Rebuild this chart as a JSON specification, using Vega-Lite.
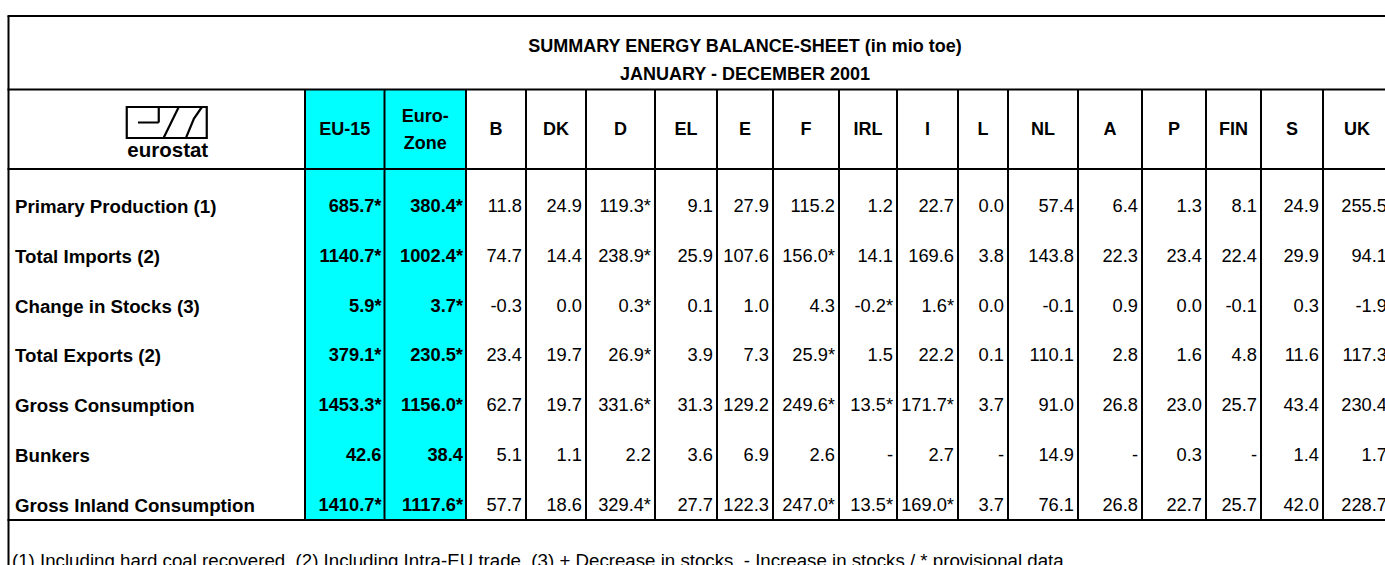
{
  "$schema": "https://vega.github.io/schema/vega-lite/v6.json",
  "width": 1385,
  "height": 565,
  "padding": 0,
  "autosize": {"type": "none"},
  "background": "white",
  "config": {
    "view": {"stroke": null},
    "text": {"font": "Liberation Sans, Arial, sans-serif", "fontSize": 18.3, "color": "black"}
  },
  "datasets": {
    "columns": [
      {"col": "label", "k": 0, "head": ""},
      {"col": "EU-15", "k": 1, "head": "EU-15"},
      {"col": "Euro-Zone", "k": 2, "head": "Euro-\nZone"},
      {"col": "B", "k": 3, "head": "B"},
      {"col": "DK", "k": 4, "head": "DK"},
      {"col": "D", "k": 5, "head": "D"},
      {"col": "EL", "k": 6, "head": "EL"},
      {"col": "E", "k": 7, "head": "E"},
      {"col": "F", "k": 8, "head": "F"},
      {"col": "IRL", "k": 9, "head": "IRL"},
      {"col": "I", "k": 10, "head": "I"},
      {"col": "L", "k": 11, "head": "L"},
      {"col": "NL", "k": 12, "head": "NL"},
      {"col": "A", "k": 13, "head": "A"},
      {"col": "P", "k": 14, "head": "P"},
      {"col": "FIN", "k": 15, "head": "FIN"},
      {"col": "S", "k": 16, "head": "S"},
      {"col": "UK", "k": 17, "head": "UK"}
    ],
    "rows": [
      {"item": "Primary Production (1)", "line": 6},
      {"item": "Total Imports (2)", "line": 7},
      {"item": "Change in Stocks (3)", "line": 8},
      {"item": "Total Exports (2)", "line": 9},
      {"item": "Gross Consumption", "line": 10},
      {"item": "Bunkers", "line": 11},
      {"item": "Gross Inland Consumption", "line": 12}
    ],
    "cells": [
      {"item": "Primary Production (1)", "col": "EU-15", "value": "685.7*"},
      {"item": "Primary Production (1)", "col": "Euro-Zone", "value": "380.4*"},
      {"item": "Primary Production (1)", "col": "B", "value": "11.8"},
      {"item": "Primary Production (1)", "col": "DK", "value": "24.9"},
      {"item": "Primary Production (1)", "col": "D", "value": "119.3*"},
      {"item": "Primary Production (1)", "col": "EL", "value": "9.1"},
      {"item": "Primary Production (1)", "col": "E", "value": "27.9"},
      {"item": "Primary Production (1)", "col": "F", "value": "115.2"},
      {"item": "Primary Production (1)", "col": "IRL", "value": "1.2"},
      {"item": "Primary Production (1)", "col": "I", "value": "22.7"},
      {"item": "Primary Production (1)", "col": "L", "value": "0.0"},
      {"item": "Primary Production (1)", "col": "NL", "value": "57.4"},
      {"item": "Primary Production (1)", "col": "A", "value": "6.4"},
      {"item": "Primary Production (1)", "col": "P", "value": "1.3"},
      {"item": "Primary Production (1)", "col": "FIN", "value": "8.1"},
      {"item": "Primary Production (1)", "col": "S", "value": "24.9"},
      {"item": "Primary Production (1)", "col": "UK", "value": "255.5"},
      {"item": "Total Imports (2)", "col": "EU-15", "value": "1140.7*"},
      {"item": "Total Imports (2)", "col": "Euro-Zone", "value": "1002.4*"},
      {"item": "Total Imports (2)", "col": "B", "value": "74.7"},
      {"item": "Total Imports (2)", "col": "DK", "value": "14.4"},
      {"item": "Total Imports (2)", "col": "D", "value": "238.9*"},
      {"item": "Total Imports (2)", "col": "EL", "value": "25.9"},
      {"item": "Total Imports (2)", "col": "E", "value": "107.6"},
      {"item": "Total Imports (2)", "col": "F", "value": "156.0*"},
      {"item": "Total Imports (2)", "col": "IRL", "value": "14.1"},
      {"item": "Total Imports (2)", "col": "I", "value": "169.6"},
      {"item": "Total Imports (2)", "col": "L", "value": "3.8"},
      {"item": "Total Imports (2)", "col": "NL", "value": "143.8"},
      {"item": "Total Imports (2)", "col": "A", "value": "22.3"},
      {"item": "Total Imports (2)", "col": "P", "value": "23.4"},
      {"item": "Total Imports (2)", "col": "FIN", "value": "22.4"},
      {"item": "Total Imports (2)", "col": "S", "value": "29.9"},
      {"item": "Total Imports (2)", "col": "UK", "value": "94.1"},
      {"item": "Change in Stocks (3)", "col": "EU-15", "value": "5.9*"},
      {"item": "Change in Stocks (3)", "col": "Euro-Zone", "value": "3.7*"},
      {"item": "Change in Stocks (3)", "col": "B", "value": "-0.3"},
      {"item": "Change in Stocks (3)", "col": "DK", "value": "0.0"},
      {"item": "Change in Stocks (3)", "col": "D", "value": "0.3*"},
      {"item": "Change in Stocks (3)", "col": "EL", "value": "0.1"},
      {"item": "Change in Stocks (3)", "col": "E", "value": "1.0"},
      {"item": "Change in Stocks (3)", "col": "F", "value": "4.3"},
      {"item": "Change in Stocks (3)", "col": "IRL", "value": "-0.2*"},
      {"item": "Change in Stocks (3)", "col": "I", "value": "1.6*"},
      {"item": "Change in Stocks (3)", "col": "L", "value": "0.0"},
      {"item": "Change in Stocks (3)", "col": "NL", "value": "-0.1"},
      {"item": "Change in Stocks (3)", "col": "A", "value": "0.9"},
      {"item": "Change in Stocks (3)", "col": "P", "value": "0.0"},
      {"item": "Change in Stocks (3)", "col": "FIN", "value": "-0.1"},
      {"item": "Change in Stocks (3)", "col": "S", "value": "0.3"},
      {"item": "Change in Stocks (3)", "col": "UK", "value": "-1.9"},
      {"item": "Total Exports (2)", "col": "EU-15", "value": "379.1*"},
      {"item": "Total Exports (2)", "col": "Euro-Zone", "value": "230.5*"},
      {"item": "Total Exports (2)", "col": "B", "value": "23.4"},
      {"item": "Total Exports (2)", "col": "DK", "value": "19.7"},
      {"item": "Total Exports (2)", "col": "D", "value": "26.9*"},
      {"item": "Total Exports (2)", "col": "EL", "value": "3.9"},
      {"item": "Total Exports (2)", "col": "E", "value": "7.3"},
      {"item": "Total Exports (2)", "col": "F", "value": "25.9*"},
      {"item": "Total Exports (2)", "col": "IRL", "value": "1.5"},
      {"item": "Total Exports (2)", "col": "I", "value": "22.2"},
      {"item": "Total Exports (2)", "col": "L", "value": "0.1"},
      {"item": "Total Exports (2)", "col": "NL", "value": "110.1"},
      {"item": "Total Exports (2)", "col": "A", "value": "2.8"},
      {"item": "Total Exports (2)", "col": "P", "value": "1.6"},
      {"item": "Total Exports (2)", "col": "FIN", "value": "4.8"},
      {"item": "Total Exports (2)", "col": "S", "value": "11.6"},
      {"item": "Total Exports (2)", "col": "UK", "value": "117.3"},
      {"item": "Gross Consumption", "col": "EU-15", "value": "1453.3*"},
      {"item": "Gross Consumption", "col": "Euro-Zone", "value": "1156.0*"},
      {"item": "Gross Consumption", "col": "B", "value": "62.7"},
      {"item": "Gross Consumption", "col": "DK", "value": "19.7"},
      {"item": "Gross Consumption", "col": "D", "value": "331.6*"},
      {"item": "Gross Consumption", "col": "EL", "value": "31.3"},
      {"item": "Gross Consumption", "col": "E", "value": "129.2"},
      {"item": "Gross Consumption", "col": "F", "value": "249.6*"},
      {"item": "Gross Consumption", "col": "IRL", "value": "13.5*"},
      {"item": "Gross Consumption", "col": "I", "value": "171.7*"},
      {"item": "Gross Consumption", "col": "L", "value": "3.7"},
      {"item": "Gross Consumption", "col": "NL", "value": "91.0"},
      {"item": "Gross Consumption", "col": "A", "value": "26.8"},
      {"item": "Gross Consumption", "col": "P", "value": "23.0"},
      {"item": "Gross Consumption", "col": "FIN", "value": "25.7"},
      {"item": "Gross Consumption", "col": "S", "value": "43.4"},
      {"item": "Gross Consumption", "col": "UK", "value": "230.4"},
      {"item": "Bunkers", "col": "EU-15", "value": "42.6"},
      {"item": "Bunkers", "col": "Euro-Zone", "value": "38.4"},
      {"item": "Bunkers", "col": "B", "value": "5.1"},
      {"item": "Bunkers", "col": "DK", "value": "1.1"},
      {"item": "Bunkers", "col": "D", "value": "2.2"},
      {"item": "Bunkers", "col": "EL", "value": "3.6"},
      {"item": "Bunkers", "col": "E", "value": "6.9"},
      {"item": "Bunkers", "col": "F", "value": "2.6"},
      {"item": "Bunkers", "col": "IRL", "value": "-"},
      {"item": "Bunkers", "col": "I", "value": "2.7"},
      {"item": "Bunkers", "col": "L", "value": "-"},
      {"item": "Bunkers", "col": "NL", "value": "14.9"},
      {"item": "Bunkers", "col": "A", "value": "-"},
      {"item": "Bunkers", "col": "P", "value": "0.3"},
      {"item": "Bunkers", "col": "FIN", "value": "-"},
      {"item": "Bunkers", "col": "S", "value": "1.4"},
      {"item": "Bunkers", "col": "UK", "value": "1.7"},
      {"item": "Gross Inland Consumption", "col": "EU-15", "value": "1410.7*"},
      {"item": "Gross Inland Consumption", "col": "Euro-Zone", "value": "1117.6*"},
      {"item": "Gross Inland Consumption", "col": "B", "value": "57.7"},
      {"item": "Gross Inland Consumption", "col": "DK", "value": "18.6"},
      {"item": "Gross Inland Consumption", "col": "D", "value": "329.4*"},
      {"item": "Gross Inland Consumption", "col": "EL", "value": "27.7"},
      {"item": "Gross Inland Consumption", "col": "E", "value": "122.3"},
      {"item": "Gross Inland Consumption", "col": "F", "value": "247.0*"},
      {"item": "Gross Inland Consumption", "col": "IRL", "value": "13.5*"},
      {"item": "Gross Inland Consumption", "col": "I", "value": "169.0*"},
      {"item": "Gross Inland Consumption", "col": "L", "value": "3.7"},
      {"item": "Gross Inland Consumption", "col": "NL", "value": "76.1"},
      {"item": "Gross Inland Consumption", "col": "A", "value": "26.8"},
      {"item": "Gross Inland Consumption", "col": "P", "value": "22.7"},
      {"item": "Gross Inland Consumption", "col": "FIN", "value": "25.7"},
      {"item": "Gross Inland Consumption", "col": "S", "value": "42.0"},
      {"item": "Gross Inland Consumption", "col": "UK", "value": "228.7"}
    ],
    "titles": [
      {"line": 1, "text": "SUMMARY ENERGY BALANCE-SHEET (in mio toe)"},
      {"line": 2, "text": "JANUARY - DECEMBER 2001"}
    ],
    "hlines": [{"line": 0}, {"line": 3}, {"line": 5}, {"line": 13}],
    "notes": [{"text": "(1) Including hard coal recovered \u00a0(2) Including Intra-EU trade \u00a0(3) + Decrease in stocks \u00a0- Increase in stocks / * provisional data"}],
    "logo": [{"name": "eurostat"}]
  },
  "resolve": {"scale": {"x": "independent", "y": "independent"}},
  "layer": [
    {
      "data": {"name": "logo"},
      "mark": {"type": "rect", "color": "#00FFFF"},
      "encoding": {
        "x": {"datum": 0, "type": "quantitative", "axis": null, "scale": {"type": "linear", "zero": false, "nice": false, "domain": [-1,0,1,2,3,4,5,6,7,8,9,10,11,12,13,14,15,16,17], "range": [8.5,305,384.5,466,526,586,655,717,773,839,897,958,1008,1078,1142,1206,1261,1323,1391]}},
        "x2": {"datum": 2},
        "y": {"datum": 3, "type": "quantitative", "axis": null, "scale": {"type": "linear", "zero": false, "nice": false, "domain": [0,1,2,3,4,5,6,7,8,9,10,11,12,13,14,15], "range": [16,47,75,89.5,130,169,206.7,256.6,306.5,356.4,406.3,456.2,506.1,520,567,600]}},
        "y2": {"datum": 13}
      }
    },
    {
      "data": {"name": "hlines"},
      "mark": {"type": "rule", "color": "black", "strokeWidth": 2, "strokeCap": "square"},
      "encoding": {
        "x": {"datum": -1, "type": "quantitative", "axis": null, "scale": {"type": "linear", "zero": false, "nice": false, "domain": [-1,0,1,2,3,4,5,6,7,8,9,10,11,12,13,14,15,16,17], "range": [8.5,305,384.5,466,526,586,655,717,773,839,897,958,1008,1078,1142,1206,1261,1323,1391]}},
        "x2": {"datum": 17},
        "y": {"field": "line", "type": "quantitative", "axis": null, "scale": {"type": "linear", "zero": false, "nice": false, "domain": [0,1,2,3,4,5,6,7,8,9,10,11,12,13,14,15], "range": [16,47,75,89.5,130,169,206.7,256.6,306.5,356.4,406.3,456.2,506.1,520,567,600]}}
      }
    },
    {
      "data": {"name": "columns"},
      "mark": {"type": "rule", "color": "black", "strokeWidth": 2},
      "encoding": {
        "x": {"field": "k", "type": "quantitative", "axis": null, "scale": {"type": "linear", "zero": false, "nice": false, "domain": [-1,0,1,2,3,4,5,6,7,8,9,10,11,12,13,14,15,16,17], "range": [8.5,305,384.5,466,526,586,655,717,773,839,897,958,1008,1078,1142,1206,1261,1323,1391]}},
        "y": {"datum": 3, "type": "quantitative", "axis": null, "scale": {"type": "linear", "zero": false, "nice": false, "domain": [0,1,2,3,4,5,6,7,8,9,10,11,12,13,14,15], "range": [16,47,75,89.5,130,169,206.7,256.6,306.5,356.4,406.3,456.2,506.1,520,567,600]}},
        "y2": {"datum": 13}
      }
    },
    {
      "data": {"name": "logo"},
      "mark": {"type": "rule", "color": "black", "strokeWidth": 2},
      "encoding": {
        "x": {"datum": -1, "type": "quantitative", "axis": null, "scale": {"type": "linear", "zero": false, "nice": false, "domain": [-1,0,1,2,3,4,5,6,7,8,9,10,11,12,13,14,15,16,17], "range": [8.5,305,384.5,466,526,586,655,717,773,839,897,958,1008,1078,1142,1206,1261,1323,1391]}},
        "y": {"datum": 0, "type": "quantitative", "axis": null, "scale": {"type": "linear", "zero": false, "nice": false, "domain": [0,1,2,3,4,5,6,7,8,9,10,11,12,13,14,15], "range": [16,47,75,89.5,130,169,206.7,256.6,306.5,356.4,406.3,456.2,506.1,520,567,600]}},
        "y2": {"datum": 15}
      }
    },
    {
      "data": {"name": "titles"},
      "mark": {"type": "text", "fontWeight": "bold", "fontSize": 18, "align": "center", "baseline": "middle"},
      "encoding": {
        "x": {"datum": 7, "type": "quantitative", "axis": null, "scale": {"type": "linear", "zero": false, "nice": false, "domain": [0,1,2,3,4,5,6,7,8,9,10,11,12,13,14,15,16,17], "range": [156.75,344.75,425.25,496,556,620.5,686,745,806,868,927.5,983,1043,1110,1174,1233.5,1292,1357]}},
        "y": {"field": "line", "type": "quantitative", "axis": null, "scale": {"type": "linear", "zero": false, "nice": false, "domain": [0,1,2,3,4,5,6,7,8,9,10,11,12,13,14,15], "range": [16,47,75,89.5,130,169,206.7,256.6,306.5,356.4,406.3,456.2,506.1,520,567,600]}},
        "text": {"field": "text"}
      }
    },
    {
      "data": {"name": "columns"},
      "transform": [{"filter": "datum.k >= 1 && datum.k != 2"}],
      "mark": {"type": "text", "fontWeight": "bold", "fontSize": 18, "align": "center", "baseline": "middle"},
      "encoding": {
        "x": {"field": "k", "type": "quantitative", "axis": null, "scale": {"type": "linear", "zero": false, "nice": false, "domain": [0,1,2,3,4,5,6,7,8,9,10,11,12,13,14,15,16,17], "range": [156.75,344.75,425.25,496,556,620.5,686,745,806,868,927.5,983,1043,1110,1174,1233.5,1292,1357]}},
        "y": {"datum": 4, "type": "quantitative", "axis": null, "scale": {"type": "linear", "zero": false, "nice": false, "domain": [0,1,2,3,4,5,6,7,8,9,10,11,12,13,14,15], "range": [16,47,75,89.5,130,169,206.7,256.6,306.5,356.4,406.3,456.2,506.1,520,567,600]}},
        "text": {"field": "head"}
      }
    },
    {
      "data": {"name": "columns"},
      "transform": [{"filter": "datum.k == 2"}],
      "mark": {"type": "text", "fontWeight": "bold", "fontSize": 18, "align": "center", "baseline": "middle", "lineBreak": "\n", "lineHeight": 27, "dy": -13.5},
      "encoding": {
        "x": {"field": "k", "type": "quantitative", "axis": null, "scale": {"type": "linear", "zero": false, "nice": false, "domain": [0,1,2,3,4,5,6,7,8,9,10,11,12,13,14,15,16,17], "range": [156.75,344.75,425.25,496,556,620.5,686,745,806,868,927.5,983,1043,1110,1174,1233.5,1292,1357]}},
        "y": {"datum": 4, "type": "quantitative", "axis": null, "scale": {"type": "linear", "zero": false, "nice": false, "domain": [0,1,2,3,4,5,6,7,8,9,10,11,12,13,14,15], "range": [16,47,75,89.5,130,169,206.7,256.6,306.5,356.4,406.3,456.2,506.1,520,567,600]}},
        "text": {"field": "head"}
      }
    },
    {
      "data": {"name": "logo"},
      "mark": {"type": "point", "filled": false, "color": "black", "strokeWidth": 2.2, "opacity": 1, "size": 6400, "xOffset": 10, "yOffset": -7.5,
        "shape": "M-1,-0.3875H1V0.3875H-1Z M-0.72,0H-0.2 M-0.2,-0.3875V0 M-0.08,0.3875L0.3,-0.3875 M0.3,0.3875L0.48,0.3875L0.68,-0.1L0.88,-0.3875"},
      "encoding": {
        "x": {"datum": 0, "type": "quantitative", "axis": null, "scale": {"type": "linear", "zero": false, "nice": false, "domain": [0,1,2,3,4,5,6,7,8,9,10,11,12,13,14,15,16,17], "range": [156.75,344.75,425.25,496,556,620.5,686,745,806,868,927.5,983,1043,1110,1174,1233.5,1292,1357]}},
        "y": {"datum": 4, "type": "quantitative", "axis": null, "scale": {"type": "linear", "zero": false, "nice": false, "domain": [0,1,2,3,4,5,6,7,8,9,10,11,12,13,14,15], "range": [16,47,75,89.5,130,169,206.7,256.6,306.5,356.4,406.3,456.2,506.1,520,567,600]}}
      }
    },
    {
      "data": {"name": "logo"},
      "mark": {"type": "text", "fontWeight": "bold", "fontSize": 20.5, "align": "center", "baseline": "alphabetic", "dx": 11, "dy": 27},
      "encoding": {
        "x": {"datum": 0, "type": "quantitative", "axis": null, "scale": {"type": "linear", "zero": false, "nice": false, "domain": [0,1,2,3,4,5,6,7,8,9,10,11,12,13,14,15,16,17], "range": [156.75,344.75,425.25,496,556,620.5,686,745,806,868,927.5,983,1043,1110,1174,1233.5,1292,1357]}},
        "y": {"datum": 4, "type": "quantitative", "axis": null, "scale": {"type": "linear", "zero": false, "nice": false, "domain": [0,1,2,3,4,5,6,7,8,9,10,11,12,13,14,15], "range": [16,47,75,89.5,130,169,206.7,256.6,306.5,356.4,406.3,456.2,506.1,520,567,600]}},
        "text": {"field": "name"}
      }
    },
    {
      "data": {"name": "rows"},
      "mark": {"type": "text", "fontWeight": "bold", "fontSize": 18.7, "align": "left", "baseline": "middle", "dx": 6.5},
      "encoding": {
        "x": {"datum": -1, "type": "quantitative", "axis": null, "scale": {"type": "linear", "zero": false, "nice": false, "domain": [-1,0,1,2,3,4,5,6,7,8,9,10,11,12,13,14,15,16,17], "range": [8.5,305,384.5,466,526,586,655,717,773,839,897,958,1008,1078,1142,1206,1261,1323,1391]}},
        "y": {"field": "line", "type": "quantitative", "axis": null, "scale": {"type": "linear", "zero": false, "nice": false, "domain": [0,1,2,3,4,5,6,7,8,9,10,11,12,13,14,15], "range": [16,47,75,89.5,130,169,206.7,256.6,306.5,356.4,406.3,456.2,506.1,520,567,600]}},
        "text": {"field": "item"}
      }
    },
    {
      "data": {"name": "cells"},
      "transform": [
        {"lookup": "col", "from": {"data": {"name": "columns"}, "key": "col", "fields": ["k"]}},
        {"lookup": "item", "from": {"data": {"name": "rows"}, "key": "item", "fields": ["line"]}},
        {"filter": "datum.k <= 2"}
      ],
      "mark": {"type": "text", "fontWeight": "bold", "align": "right", "baseline": "middle", "dx": -3},
      "encoding": {
        "x": {"field": "k", "type": "quantitative", "axis": null, "scale": {"type": "linear", "zero": false, "nice": false, "domain": [-1,0,1,2,3,4,5,6,7,8,9,10,11,12,13,14,15,16,17], "range": [8.5,305,384.5,466,526,586,655,717,773,839,897,958,1008,1078,1142,1206,1261,1323,1391]}},
        "y": {"field": "line", "type": "quantitative", "axis": null, "scale": {"type": "linear", "zero": false, "nice": false, "domain": [0,1,2,3,4,5,6,7,8,9,10,11,12,13,14,15], "range": [16,47,75,89.5,130,169,206.7,256.6,306.5,356.4,406.3,456.2,506.1,520,567,600]}},
        "text": {"field": "value"}
      }
    },
    {
      "data": {"name": "cells"},
      "transform": [
        {"lookup": "col", "from": {"data": {"name": "columns"}, "key": "col", "fields": ["k"]}},
        {"lookup": "item", "from": {"data": {"name": "rows"}, "key": "item", "fields": ["line"]}},
        {"filter": "datum.k >= 3"}
      ],
      "mark": {"type": "text", "align": "right", "baseline": "middle", "dx": -4},
      "encoding": {
        "x": {"field": "k", "type": "quantitative", "axis": null, "scale": {"type": "linear", "zero": false, "nice": false, "domain": [-1,0,1,2,3,4,5,6,7,8,9,10,11,12,13,14,15,16,17], "range": [8.5,305,384.5,466,526,586,655,717,773,839,897,958,1008,1078,1142,1206,1261,1323,1391]}},
        "y": {"field": "line", "type": "quantitative", "axis": null, "scale": {"type": "linear", "zero": false, "nice": false, "domain": [0,1,2,3,4,5,6,7,8,9,10,11,12,13,14,15], "range": [16,47,75,89.5,130,169,206.7,256.6,306.5,356.4,406.3,456.2,506.1,520,567,600]}},
        "text": {"field": "value"}
      }
    },
    {
      "data": {"name": "notes"},
      "mark": {"type": "text", "fontSize": 18.7, "align": "left", "baseline": "alphabetic", "dx": 3.5},
      "encoding": {
        "x": {"datum": -1, "type": "quantitative", "axis": null, "scale": {"type": "linear", "zero": false, "nice": false, "domain": [-1,0,1,2,3,4,5,6,7,8,9,10,11,12,13,14,15,16,17], "range": [8.5,305,384.5,466,526,586,655,717,773,839,897,958,1008,1078,1142,1206,1261,1323,1391]}},
        "y": {"datum": 14, "type": "quantitative", "axis": null, "scale": {"type": "linear", "zero": false, "nice": false, "domain": [0,1,2,3,4,5,6,7,8,9,10,11,12,13,14,15], "range": [16,47,75,89.5,130,169,206.7,256.6,306.5,356.4,406.3,456.2,506.1,520,567,600]}},
        "text": {"field": "text"}
      }
    }
  ]
}
